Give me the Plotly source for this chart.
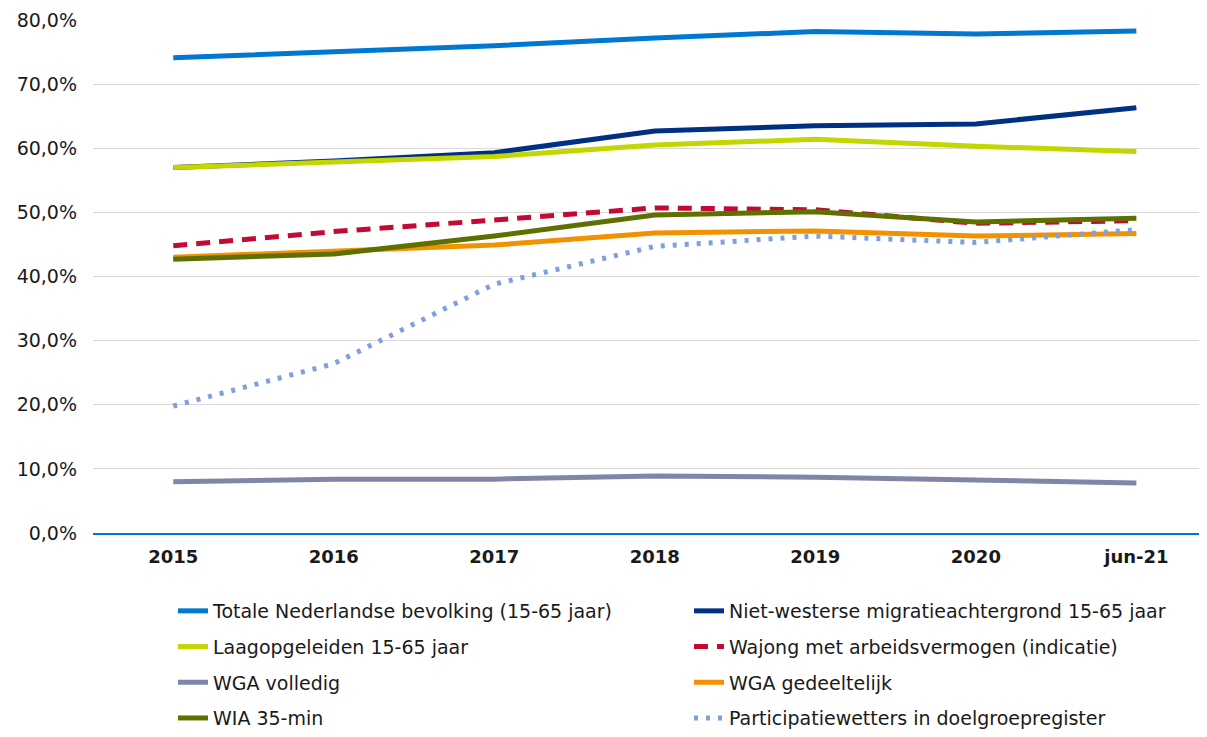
import plotly.graph_objects as go

categories = ["2015", "2016", "2017", "2018", "2019", "2020", "jun-21"]

totale = [74.1, 75.0, 76.0, 77.2, 78.2, 77.8, 78.3]
niet_westers = [57.0, 58.0, 59.3, 62.7, 63.5, 63.8, 66.3]
laagopgeleid = [57.0, 57.9, 58.7, 60.5, 61.4, 60.3, 59.5]
wajong = [44.8, 47.0, 48.8, 50.7, 50.4, 48.3, 48.7]
wga_volledig = [8.0, 8.4, 8.4, 8.9, 8.7, 8.2, 7.8]
wga_gedeeltelijk = [43.0, 44.0, 44.9, 46.8, 47.1, 46.3, 46.7]
wia_35min = [42.7, 43.5, 46.3, 49.6, 50.1, 48.5, 49.1]
participatie = [19.8, 26.4, 38.8, 44.7, 46.3, 45.3, 47.3]

series = [
    ("Totale Nederlandse bevolking (15-65 jaar)", totale, "#0078D2", "solid", "legend"),
    ("Niet-westerse migratieachtergrond 15-65 jaar", niet_westers, "#003082", "solid", "legend2"),
    ("Laagopgeleiden 15-65 jaar", laagopgeleid, "#C3D600", "solid", "legend"),
    ("Wajong met arbeidsvermogen (indicatie)", wajong, "#C20A32", "14px,9px", "legend2"),
    ("WGA volledig", wga_volledig, "#7F86A8", "solid", "legend"),
    ("WGA gedeeltelijk", wga_gedeeltelijk, "#F39200", "solid", "legend2"),
    ("WIA 35-min", wia_35min, "#5E7000", "solid", "legend"),
    ("Participatiewetters in doelgroepregister", participatie, "#7FA0DC", "4px,8px", "legend2"),
]

fig = go.Figure()
for i, (name, vals, color, dash, leg) in enumerate(series):
    fig.add_trace(go.Scatter(
        x=categories, y=vals, name=name, mode="lines",
        line=dict(color=color, width=5, dash=dash),
        legend=leg, legendgroup=f"g{i}",
    ))

font_family = "DejaVu Sans, Verdana, sans-serif"

# page body adds an 8px offset; compensate so the visible window matches
W, H = 1199, 721
ml, mt = 85, 12
plot_h = 513
mb = H - mt - plot_h
plot_w = W - ml
plot_bottom = mt + plot_h
leg_top = 584

fig.update_layout(
    width=W, height=H,
    margin=dict(l=ml, r=0, t=mt, b=mb, autoexpand=False),
    plot_bgcolor="white", paper_bgcolor="white",
    font=dict(family=font_family, size=19, color="#1a1a1a"),
    separators=", ",
    xaxis=dict(
        type="category", range=[-0.5, 6.44],
        showline=True, linecolor="#0078D2", linewidth=2,
        showgrid=False, ticks="",
        tickfont=dict(family=font_family, size=18, color="#1a1a1a", weight="bold"),
        ticklabelstandoff=6,
    ),
    yaxis=dict(
        range=[0, 80], dtick=10, tickformat=".1f", ticksuffix="%",
        showgrid=True, gridcolor="#D9D9D9", gridwidth=1,
        zeroline=False, showline=False, ticks="",
        ticklabelstandoff=15,
        tickfont=dict(family=font_family, size=19, color="#1a1a1a"),
    ),
    legend=dict(
        x=(165 - ml) / plot_w, xanchor="left",
        y=-(leg_top - plot_bottom) / plot_h, yanchor="top",
        orientation="v", tracegroupgap=8,
        font=dict(family=font_family, size=19, color="#1a1a1a"),
        bgcolor="rgba(0,0,0,0)",
    ),
    legend2=dict(
        x=(681 - ml) / plot_w, xanchor="left",
        y=-(leg_top - plot_bottom) / plot_h, yanchor="top",
        orientation="v", tracegroupgap=8,
        font=dict(family=font_family, size=19, color="#1a1a1a"),
        bgcolor="rgba(0,0,0,0)",
    ),
    showlegend=True,
)

fig.write_html("out.html")
